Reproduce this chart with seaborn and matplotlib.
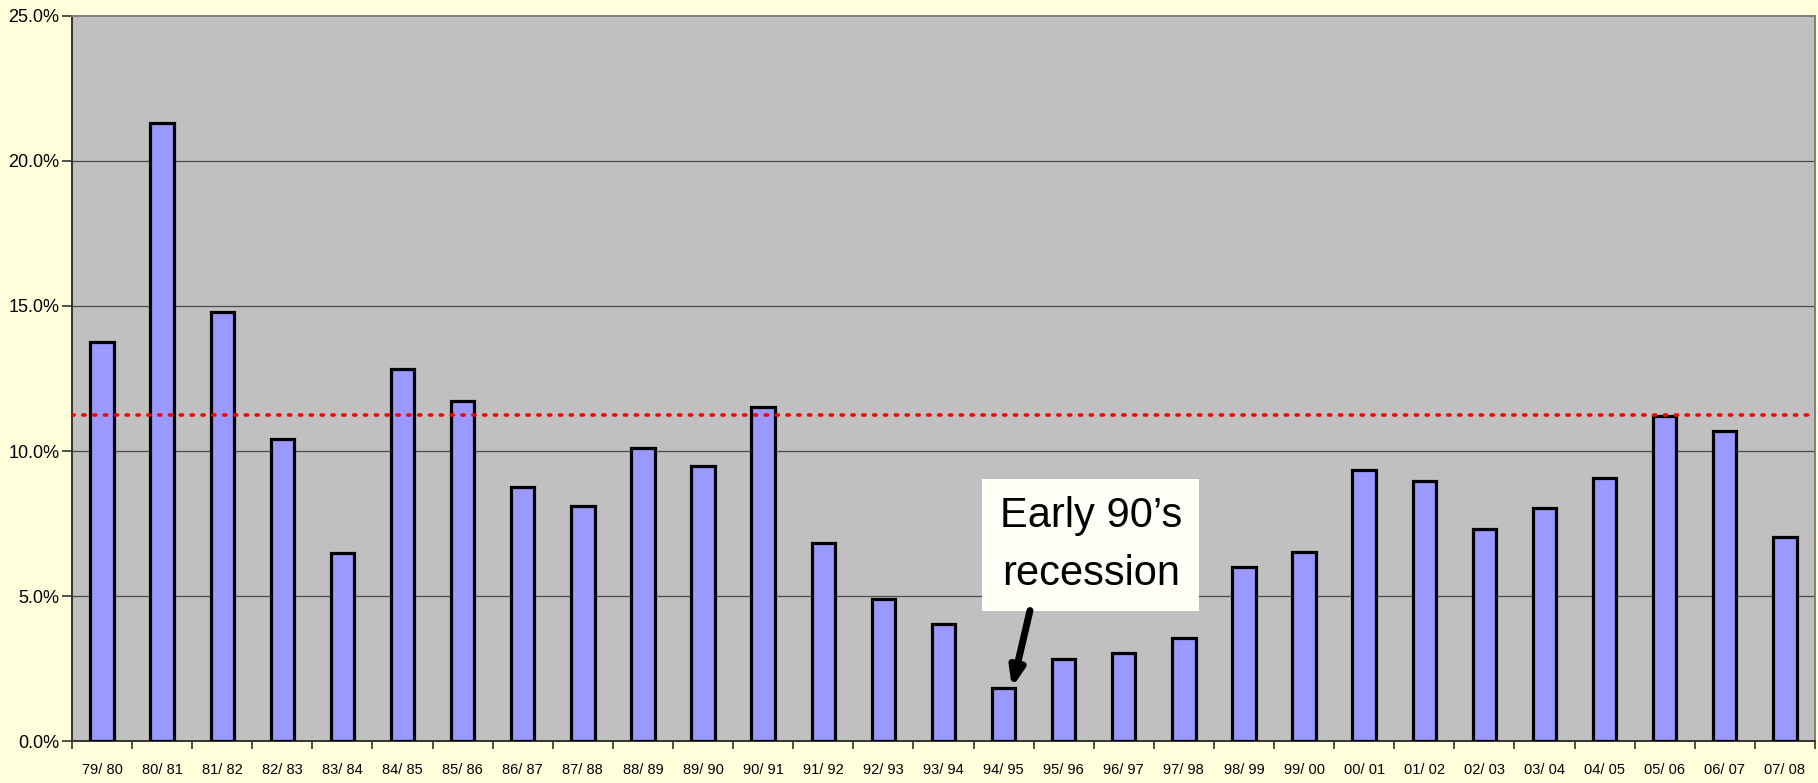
import numpy as np
import pandas as pd
import seaborn as sns
from matplotlib import pyplot as plt

# seasons and growth values (in %)
seasons = ['79/ 80', '80/ 81', '81/ 82', '82/ 83', '83/ 84', '84/ 85', '85/ 86',
           '86/ 87', '87/ 88', '88/ 89', '89/ 90', '90/ 91', '91/ 92', '92/ 93',
           '93/ 94', '94/ 95', '95/ 96', '96/ 97', '97/ 98', '98/ 99', '99/ 00',
           '00/ 01', '01/ 02', '02/ 03', '03/ 04', '04/ 05', '05/ 06', '06/ 07',
           '07/ 08']
growth = [13.76, 21.3, 14.78, 10.4, 6.5, 12.84, 11.72,
          8.76, 8.12, 10.1, 9.48, 11.52, 6.84, 4.88,
          4.05, 1.84, 2.84, 3.04, 3.56, 6.0, 6.52,
          9.36, 8.96, 7.32, 8.04, 9.07, 11.21, 10.7,
          7.03]
average = 11.25
yticks = [0, 5, 10, 15, 20, 25]

note_text = "Early 90\u2019s\nrecession"
note_season = '94/ 95'

sns.set_theme(style='white')
plt.rcParams['font.family'] = ['Liberation Sans', 'DejaVu Sans']
plt.rcParams['text.color'] = 'black'
plt.rcParams['xtick.color'] = 'black'
plt.rcParams['ytick.color'] = 'black'

df = pd.DataFrame({'season': seasons, 'growth': growth})

fig = plt.figure(figsize=(18.18, 7.83), dpi=100, facecolor='#FFFFDC')
ax = fig.add_axes([0.0396, 0.0536, 0.9587, 0.926])
ax.set_facecolor('#C0C0C0')

sns.barplot(data=df, x='season', y='growth', color='#9999FF', saturation=1,
            edgecolor='black', linewidth=2.3, width=0.39, ax=ax, zorder=3)

ax.axhline(average, color='#FF0000', linestyle=(0, (0.6, 2.4)), linewidth=2.6,
           dash_capstyle='round', zorder=4)

ax.set_ylim(0, 25)
ax.set_xlim(-0.5, len(seasons) - 0.5)
ax.set_yticks(yticks)
ax.set_yticklabels(['%.1f%%' % v for v in yticks])
for v in yticks[1:-1]:
    ax.axhline(v, color='#4A4A4A', linewidth=0.9, zorder=1)

# Excel style ticks between categories
ax.set_xticks(np.arange(len(seasons)))
ax.set_xticklabels(seasons, family=['Liberation Sans Narrow', 'Liberation Sans'],
                   fontsize=10.5)
ax.set_xticks(np.arange(len(seasons) + 1) - 0.5, minor=True)
ax.tick_params(axis='x', which='major', length=0, pad=16)
ax.tick_params(axis='x', which='minor', length=6, width=1.2, color='#333333',
               direction='out', bottom=True)
ax.tick_params(axis='y', length=7, width=1.2, color='#333333', labelsize=13,
               left=True, pad=2)
ax.set_xlabel('')
ax.set_ylabel('')

for side in ['left', 'bottom']:
    ax.spines[side].set_color('#333333')
    ax.spines[side].set_linewidth(1.4)
for side in ['top', 'right']:
    ax.spines[side].set_color('#7F7F7F')
    ax.spines[side].set_linewidth(1.4)

i = seasons.index(note_season)
ax.text(i + 1.45, 6.76, note_text, fontsize=30, ha='center', va='center',
        linespacing=1.55, zorder=6, color='black',
        bbox=dict(boxstyle='square,pad=0.42', facecolor='#FFFFF7', edgecolor='none'))
ax.annotate('', xy=(i + 0.14, growth[i]), xytext=(i + 0.44, 4.5),
            arrowprops=dict(arrowstyle='-|>,head_length=0.9,head_width=0.35',
                            color='black', lw=5, shrinkA=0, shrinkB=0),
            zorder=6)

fig.savefig('out.png', dpi=100, facecolor=fig.get_facecolor())
